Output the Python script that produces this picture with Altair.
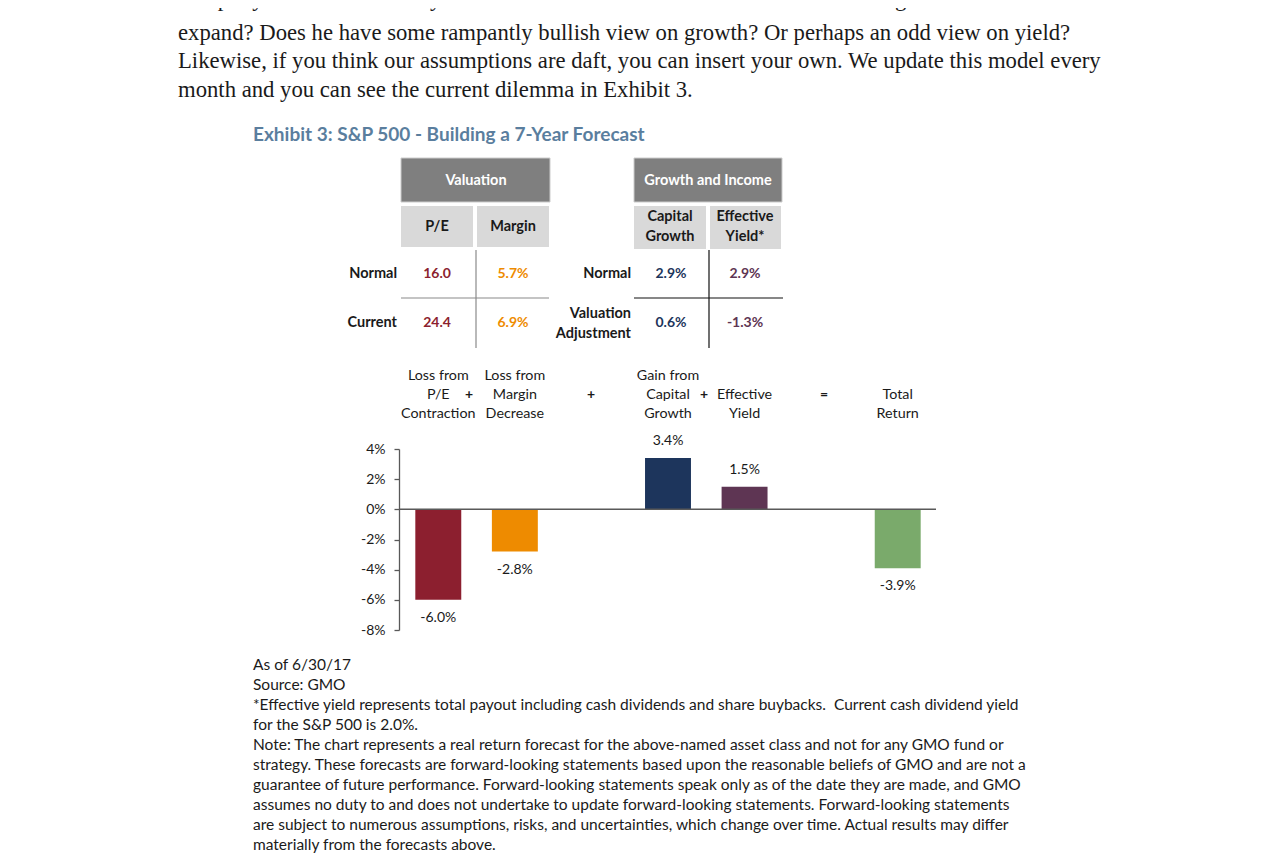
import altair as alt
import pandas as pd

# ---------------- data ----------------
slots = ["P/E", "Margin", "+", "Capital Growth", "Effective Yield", "=", "Total Return"]
bar_cats = ["P/E", "Margin", "Capital Growth", "Effective Yield", "Total Return"]
bar_vals = [-6.0, -2.8, 3.4, 1.5, -3.9]
bar_colors = ["#8C1F2F", "#EE8B00", "#1D355C", "#5E3553", "#7AAA6B"]
y_ticks = [-8, -6, -4, -2, 0, 2, 4]

head_top = ["Loss from", "Loss from", "", "Gain from", "", "", ""]
head_mid = ["P/E", "Margin", "", "Capital", "Effective", "", "Total"]
head_bot = ["Contraction", "Decrease", "", "Growth", "Yield", "", "Return"]

row_labels_left = ["Normal", "Current"]
pe_vals = ["16.0", "24.4"]
margin_vals = ["5.7%", "6.9%"]
cap_vals = ["2.9%", "0.6%"]
yield_vals = ["2.9%", "-1.3%"]

para_first = "real per year from now on\u201d you can ask them now. Does he think P/Es and margins will continue to"
para_lines = [
    "expand? Does he have some rampantly bullish view on growth? Or perhaps an odd view on yield?",
    "Likewise, if you think our assumptions are daft, you can insert your own. We update this model every",
    "month and you can see the current dilemma in Exhibit 3.",
]
title = "Exhibit 3: S&P 500 - Building a 7-Year Forecast"
notes = [
    "As of 6/30/17",
    "Source: GMO",
    "*Effective yield represents total payout including cash dividends and share buybacks.\u00a0 Current cash dividend yield",
    "for the S&P 500 is 2.0%.",
    "Note: The chart represents a real return forecast for the above-named asset class and not for any GMO fund or",
    "strategy. These forecasts are forward-looking statements based upon the reasonable beliefs of GMO and are not a",
    "guarantee of future performance. Forward-looking statements speak only as of the date they are made, and GMO",
    "assumes no duty to and does not undertake to update forward-looking statements. Forward-looking statements",
    "are subject to numerous assumptions, risks, and uncertainties, which change over time. Actual results may differ",
    "materially from the forecasts above.",
]

# ---------------- style ----------------
SANS = "Lato"
SERIF = "Liberation Serif"
INK = "#1a1a1a"
O = 8  # page margin

one = pd.DataFrame({"k": [0]})
layers = []


def txt(s, x, y, size=14, color=INK, weight="normal", align="left", font=SANS,
        baseline="middle", lh=None):
    kw = dict(text=s, fontSize=size, color=color, fontWeight=weight, align=align,
              font=font, baseline=baseline)
    if lh is not None:
        kw["lineHeight"] = lh
    layers.append(alt.Chart(one).mark_text(**kw).encode(
        x=alt.value(x - O), y=alt.value(y - O)))


def box(x0, x1, y0, y1, fill, stroke=None):
    kw = dict(fill=fill)
    if stroke:
        kw.update(stroke=stroke, strokeWidth=1)
    layers.append(alt.Chart(one).mark_rect(**kw).encode(
        x=alt.value(x0 - O), x2=alt.value(x1 - O), y=alt.value(y0 - O), y2=alt.value(y1 - O)))


def line(x0, x1, y0, y1, color, w=1.2):
    layers.append(alt.Chart(one).mark_rule(color=color, strokeWidth=w).encode(
        x=alt.value(x0 - O), x2=alt.value(x1 - O), y=alt.value(y0 - O), y2=alt.value(y1 - O)))


# paragraph
txt(para_first, 178, 6, size=22.7, font=SERIF, baseline="alphabetic")
txt(para_lines, 178, 39.5, size=22.7, font=SERIF, baseline="alphabetic", lh=28.6)
# title
txt(title, 253, 141, size=19, color="#5A7E9E", weight="bold", baseline="alphabetic")

# ---- tables ----
GRAY_D = "#7f7f7f"
GRAY_L = "#d9d9d9"
HB = 14.5
box(401, 550, 158, 202, GRAY_D, "#cccccc")
box(401, 473, 206, 247, GRAY_L)
box(477, 549, 206, 247, GRAY_L)
txt("Valuation", 476, 181, size=HB, color="white", weight="bold", align="center")
txt("P/E", 437, 227, size=HB, weight="bold", align="center")
txt("Margin", 513, 227, size=HB, weight="bold", align="center")

box(634, 782, 158, 202, GRAY_D, "#cccccc")
box(634, 706, 206, 249, GRAY_L)
box(710, 781, 206, 249, GRAY_L)
txt("Growth and Income", 708, 181, size=HB, color="white", weight="bold", align="center")
txt(["Capital", "Growth"], 670, 217, size=HB, weight="bold", align="center", lh=20)
txt(["Effective", "Yield*"], 745, 217, size=HB, weight="bold", align="center", lh=20)

line(476, 476, 250, 348, "#8a8a8a")
line(401, 549, 298, 298, "#8a8a8a")
line(709, 709, 250, 348, "#111111")
line(634, 783, 298, 298, "#111111")

row_y = [274, 323]
for i in range(2):
    txt(row_labels_left[i], 397, row_y[i], size=HB, weight="bold", align="right")
    txt(pe_vals[i], 437, row_y[i], color="#8C1F2F", weight="bold", align="center")
    txt(margin_vals[i], 513, row_y[i], color="#EE8B00", weight="bold", align="center")
    txt(cap_vals[i], 671, row_y[i], color="#1D355C", weight="bold", align="center")
    txt(yield_vals[i], 745, row_y[i], color="#5E3553", weight="bold", align="center")
txt("Normal", 631, 274, size=HB, weight="bold", align="right")
txt(["Valuation", "Adjustment"], 631, 314, size=HB, weight="bold", align="right", lh=20)

# ---- bar chart ----
xscale = alt.Scale(domain=slots, range=[400 - O, 936 - O], paddingInner=0.4, paddingOuter=0.2)
yscale = alt.Scale(domain=[-8, 4], range=[630 - O, 449 - O], nice=False, zero=False)
yaxis = alt.Axis(
    title=None, values=y_ticks, grid=False, offset=-(399 - O), tickSize=5,
    domainColor="#595959", tickColor="#595959", domainWidth=1.3, tickWidth=1.3,
    labelFont=SANS, labelFontSize=14, labelColor=INK, labelPadding=9,
    labelExpr="replace(format(datum.value, 'd'), '\u2212', '-') + '%'",
)
X = lambda: alt.X("cat:N", scale=xscale, axis=None)
Y = lambda: alt.Y("v:Q", scale=yscale, axis=yaxis)

bars_df = pd.DataFrame({"cat": bar_cats, "v": bar_vals})
bars = alt.Chart(bars_df).mark_bar().encode(
    x=X(), y=Y(),
    color=alt.Color("cat:N", scale=alt.Scale(domain=bar_cats, range=bar_colors), legend=None),
)
layers.append(bars)

zero = alt.Chart(pd.DataFrame({"v": [0]})).mark_rule(color="#595959", strokeWidth=1.5).encode(
    y=Y(), x=alt.value(399 - O), x2=alt.value(936 - O))
layers.append(zero)

lab_expr = "replace(format(datum.v, '.1f'), '\u2212', '-') + '%'"
for cond, dy in (("datum.v < 0", 18), ("datum.v >= 0", -17)):
    layers.append(
        alt.Chart(bars_df).transform_filter(cond).transform_calculate(lab=lab_expr)
        .mark_text(font=SANS, fontSize=14, color=INK, dy=dy, baseline="middle")
        .encode(x=X(), y=Y(), text="lab:N"))

head_df = pd.DataFrame({"cat": slots, "t": head_top, "m": head_mid, "b": head_bot})
for field, yy in (("t", 376), ("m", 395), ("b", 414)):
    layers.append(
        alt.Chart(head_df).transform_filter(f"datum.{field} != ''")
        .mark_text(font=SANS, fontSize=14.3, color=INK, baseline="middle")
        .encode(x=X(), y=alt.value(yy - O), text=f"{field}:N"))

for s, xx in (("+", 469), ("+", 591), ("+", 704), ("=", 824)):
    txt(s, xx, 395, weight="bold", align="center")

# footnotes
txt(notes, 253, 670, size=15.5, baseline="alphabetic", lh=20)

chart = alt.layer(*layers).properties(
    width=1275 - 2 * O, height=867 - 2 * O,
    autosize=alt.AutoSizeParams(type="none"), padding=0, background="white",
).configure_view(stroke=None)

chart.save("out.html", embed_options={"renderer": "svg", "actions": False})
